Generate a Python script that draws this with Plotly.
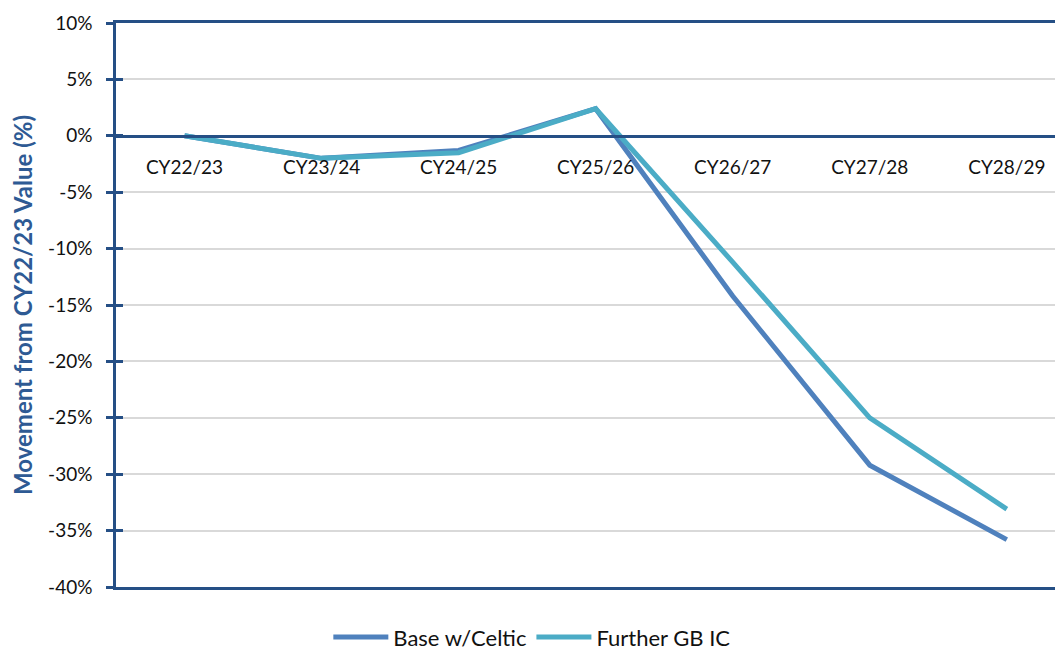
import plotly.graph_objects as go

categories = ["CY22/23", "CY23/24", "CY24/25", "CY25/26", "CY26/27", "CY27/28", "CY28/29"]
base_celtic = [0.0, -2.0, -1.3, 2.4, -14.2, -29.2, -35.8]
further_gb_ic = [0.0, -2.0, -1.5, 2.4, -11.2, -25.0, -33.1]
y_ticks = [10, 5, 0, -5, -10, -15, -20, -25, -30, -35, -40]

AXIS = "#254F85"
FONT = "Lato, 'Open Sans', sans-serif"
xr = [-0.5, 6.41]
yr = [-40, 10]

fig = go.Figure()
fig.add_trace(go.Scatter(x=categories, y=base_celtic, mode="lines", name="Base w/Celtic",
                         line=dict(color="#4F81BD", width=5), xaxis="x", yaxis="y"))
fig.add_trace(go.Scatter(x=categories, y=further_gb_ic, mode="lines", name="Further GB IC",
                         line=dict(color="#4BACC6", width=5), xaxis="x2", yaxis="y2"))

fig.update_layout(
    width=1055, height=642,
    margin=dict(l=108, r=0, t=15, b=63, autoexpand=False),
    plot_bgcolor="white", paper_bgcolor="white",
    font=dict(family=FONT, size=19, color="#111111"),
    showlegend=True,
    legend=dict(orientation="h", xref="container", yref="container", x=0.497, y=0.02,
                xanchor="center", yanchor="middle", font=dict(size=22, color="#111111"),
                itemwidth=55),
    xaxis=dict(type="category", categoryorder="array", categoryarray=categories,
               range=xr, anchor="free", position=0.8, automargin=False,
               showline=True, linecolor=AXIS, linewidth=2.5,
               showgrid=False, ticks="", ticklabelstandoff=14,
               tickfont=dict(size=19, color="#111111")),
    xaxis2=dict(type="category", categoryorder="array", categoryarray=categories,
                overlaying="x", anchor="y2", range=xr, showline=True, mirror=True,
                linecolor=AXIS, linewidth=2.5, showgrid=False, showticklabels=False,
                ticks="", zeroline=False, automargin=False),
    yaxis=dict(range=yr, tickmode="array", tickvals=y_ticks,
               ticktext=[f"{v}%" for v in y_ticks], automargin=False,
               showline=True, linecolor=AXIS, linewidth=2.5,
               ticks="outside", ticklen=7, tickwidth=2.5, tickcolor=AXIS,
               ticklabelstandoff=10,
               gridcolor="#D9D9D9", gridwidth=1.5, zeroline=False,
               tickfont=dict(size=19, color="#111111"),
               title=dict(text="<b>Movement from CY22/23 Value (%)</b>",
                          font=dict(size=24, color="#2E5A94"), standoff=12)),
    yaxis2=dict(overlaying="y", anchor="x2", range=yr, tickmode="array",
                tickvals=y_ticks, showticklabels=False, ticks="inside", ticklen=7,
                tickwidth=2.5, tickcolor=AXIS, showgrid=False, zeroline=False,
                showline=False, automargin=False),
)

fig.write_html("out.html")
